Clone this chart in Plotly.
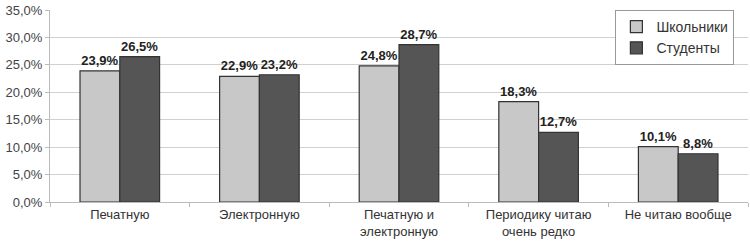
import plotly.graph_objects as go

categories = ["Печатную", "Электронную", "Печатную и<br>электронную",
              "Периодику читаю<br>очень редко", "Не читаю вообще"]
schoolchildren = [23.9, 22.9, 24.8, 18.3, 10.1]
students = [26.5, 23.2, 28.7, 12.7, 8.8]
tick_vals = [0, 5, 10, 15, 20, 25, 30, 35]

def fmt(v):
    return f"{v:.1f}".replace(".", ",") + "%"

label_font = dict(family="Liberation Sans, Arial", size=13, color="#222222", weight="bold")

fig = go.Figure()
fig.add_trace(go.Bar(
    name="Школьники", x=categories, y=schoolchildren,
    marker=dict(color="#c8c8c8", line=dict(color="#333333", width=1.2)),
    text=[fmt(v) for v in schoolchildren], textposition="outside",
    textfont=label_font, cliponaxis=False,
))
fig.add_trace(go.Bar(
    name="Студенты", x=categories, y=students,
    marker=dict(color="#555555", line=dict(color="#333333", width=1.2)),
    text=[fmt(v) for v in students], textposition="outside",
    textfont=label_font, cliponaxis=False,
))

fig.update_layout(
    width=750, height=248,
    margin=dict(l=50, r=2, t=10, b=46, autoexpand=False),
    paper_bgcolor="white", plot_bgcolor="white",
    barmode="group", bargap=0.43, bargroupgap=0,
    font=dict(family="Liberation Sans, Arial", size=13, color="#333333"),
    legend=dict(
        x=0.81, y=1.0, xanchor="left", yanchor="top",
        bgcolor="white", bordercolor="#999999", borderwidth=1,
        font=dict(size=14, color="#333333"),
        itemwidth=30, tracegroupgap=0,
    ),
    xaxis=dict(
        automargin=False,
        showline=True, linecolor="#bbbbbb", linewidth=1,
        ticks="outside", tickson="boundaries", ticklen=4, tickcolor="#bbbbbb",
        tickfont=dict(size=13, color="#333333"),
    ),
    yaxis=dict(
        automargin=False,
        range=[0, 35], tickvals=tick_vals,
        ticktext=[fmt(v) for v in tick_vals],
        showgrid=True, gridcolor="#d0d0d0", gridwidth=1,
        showline=True, linecolor="#bbbbbb", linewidth=1,
        ticks="outside", ticklen=4, tickcolor="#bbbbbb",
        tickfont=dict(size=13, color="#444444"),
        zeroline=False,
    ),
)
fig.write_html("out.html", config={"displayModeBar": False},
               post_script="document.body.style.margin='0';document.body.style.overflow='hidden';")
